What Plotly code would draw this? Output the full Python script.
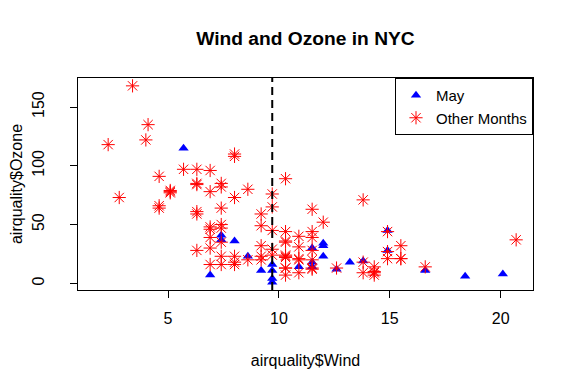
import numpy as np
import plotly.graph_objects as go

# airquality dataset (R), May..September 1973
month_names = [5, 6, 7, 8, 9]
month_days = [31, 30, 31, 31, 30]

ozone = [
    41, 36, 12, 18, None, 28, 23, 19, 8, None, 7, 16, 11, 14, 18, 14, 34, 6, 30, 11, 1, 11, 4, 32, None, None, None, 23, 45, 115, 37,
    None, None, None, None, None, None, 29, None, 71, 39, None, None, 23, None, None, 21, 37, 20, 12, 13, None, None, None, None, None, None, None, None, None, None,
    135, 49, 32, None, 64, 40, 77, 97, 97, 85, None, 10, 27, None, 7, 48, 35, 61, 79, 63, 16, None, None, 80, 108, 20, 52, 82, 50, 64, 59,
    39, 9, 16, 78, 35, 66, 122, 89, 110, None, None, 44, 28, 65, None, 22, 59, 23, 31, 44, 21, 9, None, 45, 168, 73, None, 76, 118, 84, 85,
    96, 78, 73, 91, 47, 32, 20, 23, 21, 24, 44, 21, 28, 9, 13, 46, 18, 13, 24, 16, 13, 23, 36, 7, 14, 30, None, 14, 18, 20,
]

wind = [
    7.4, 8.0, 12.6, 11.5, 14.3, 14.9, 8.6, 13.8, 20.1, 8.6, 6.9, 9.7, 9.2, 10.9, 13.2, 11.5, 12.0, 18.4, 11.5, 9.7, 9.7, 16.6, 9.7, 12.0, 16.6, 14.9, 8.0, 12.0, 14.9, 5.7, 7.4,
    8.6, 9.7, 16.1, 9.2, 8.6, 14.3, 9.7, 6.9, 13.8, 11.5, 10.9, 9.2, 8.0, 13.8, 11.5, 14.9, 20.7, 9.2, 11.5, 10.3, 6.3, 1.7, 4.6, 6.3, 8.0, 8.0, 10.3, 11.5, 14.9, 8.0,
    4.1, 9.2, 9.2, 10.9, 4.6, 10.9, 5.1, 6.3, 5.7, 7.4, 8.6, 14.3, 14.9, 14.9, 14.3, 6.9, 10.3, 6.3, 5.1, 11.5, 6.9, 9.7, 11.5, 8.6, 8.0, 8.6, 12.0, 7.4, 7.4, 7.4, 9.2,
    6.9, 13.8, 7.4, 6.9, 7.4, 4.6, 4.0, 10.3, 8.0, 8.6, 11.5, 11.5, 11.5, 9.7, 11.5, 10.3, 6.3, 7.4, 10.9, 10.3, 15.5, 14.3, 12.6, 9.7, 3.4, 8.0, 5.7, 9.7, 2.3, 6.3, 6.3,
    6.9, 5.1, 2.8, 4.6, 7.4, 15.5, 10.9, 10.3, 10.9, 9.7, 14.9, 15.5, 6.3, 10.9, 11.5, 6.9, 13.8, 10.3, 10.3, 8.0, 12.6, 9.2, 10.3, 10.3, 16.6, 6.9, 13.2, 14.3, 8.0, 11.5,
]

x_ticks = [5, 10, 15, 20]
y_ticks = [0, 50, 100, 150]

month = np.repeat(month_names, month_days)
oz = np.array([np.nan if v is None else v for v in ozone], dtype=float)
wd = np.array(wind, dtype=float)

ok = ~np.isnan(oz)
may = ok & (month == 5)
other = ok & (month != 5)

wind_median = float(np.median(wd))

def r_range(v):
    lo, hi = np.nanmin(v), np.nanmax(v)
    d = (hi - lo) * 0.04
    return [lo - d, hi + d]

xr = r_range(wd)
yr = r_range(oz)

font_family = "Liberation Sans, Arial, sans-serif"

fig = go.Figure()
fig.add_trace(go.Scatter(
    x=wd[may], y=oz[may], mode="markers", name="May",
    marker=dict(symbol="triangle-up", color="#0000FF", size=9, line=dict(width=0)),
))
fig.add_trace(go.Scatter(
    x=wd[other], y=oz[other], mode="markers", name="Other Months",
    marker=dict(symbol="asterisk-open", color="#FF0000", size=11, line=dict(color="#FF0000", width=1)),
))

fig.add_shape(type="line", xref="x", yref="paper", x0=wind_median, x1=wind_median, y0=0, y1=1,
              line=dict(color="black", width=2, dash="8px,5px"))

axis_common = dict(
    showgrid=False, zeroline=False, showline=True, linecolor="black", linewidth=1,
    mirror=True, ticks="outside", ticklen=7, tickcolor="black", tickwidth=1,
    tickfont=dict(family=font_family, size=16, color="black"),
)

W, H = 574, 388
L, T, PW, PH = 70, 70, 455, 212

fig.update_layout(
    width=W, height=H,
    margin=dict(l=L, r=W - L - PW, t=T, b=H - T - PH, autoexpand=False),
    paper_bgcolor="white", plot_bgcolor="white",
    title=dict(text="<b>Wind and Ozone in NYC</b>", x=(L + PW / 2) / W, xanchor="center",
               y=1 - 30 / H, yanchor="middle",
               font=dict(family=font_family, size=19.2, color="black")),
    xaxis=dict(range=xr, tickvals=x_ticks, ticktext=[str(t) for t in x_ticks],
               title=dict(text="airquality$Wind", standoff=28,
                          font=dict(family=font_family, size=16, color="black")),
               ticklabelstandoff=7, automargin=False, **axis_common),
    yaxis=dict(range=yr, tickvals=y_ticks, ticktext=[str(t) for t in y_ticks], tickangle=-90,
               title=dict(text="airquality$Ozone", standoff=5,
                          font=dict(family=font_family, size=16, color="black")),
               ticklabelstandoff=20, automargin=False, **axis_common),
    legend=dict(x=1, xanchor="right", y=1, yanchor="top", bgcolor="white",
                bordercolor="black", borderwidth=1,
                font=dict(family=font_family, size=15, color="black"),
                itemsizing="trace", tracegroupgap=0),
    showlegend=True,
)

fig.write_html("out.html")
